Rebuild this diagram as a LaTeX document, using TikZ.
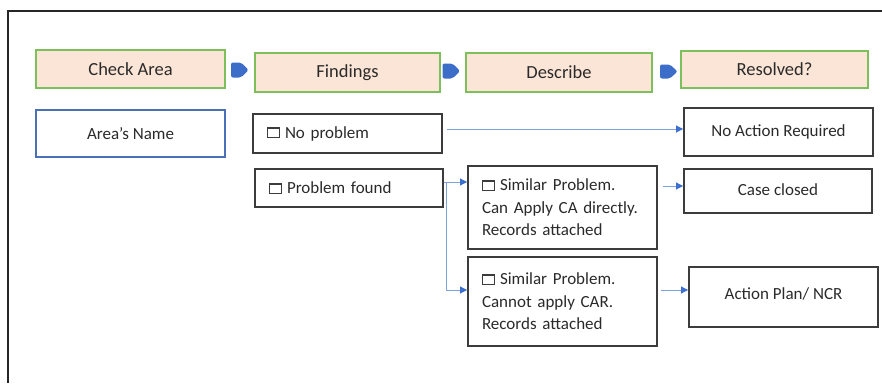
\documentclass[tikz,border=0pt]{standalone}
\usepackage{fontspec}
\setmainfont{Carlito}
\usetikzlibrary{arrows.meta,calc}
\definecolor{hdrfill}{HTML}{FBE5D6}
\definecolor{hdrline}{HTML}{7DBF5A}
\definecolor{bluebox}{HTML}{4A70B5}
\definecolor{boxline}{HTML}{3C3C3C}
\definecolor{txt}{HTML}{2A2A2A}
\definecolor{connline}{HTML}{7FA1DC}
\definecolor{conntip}{HTML}{3B6FD0}
\definecolor{chevcol}{HTML}{3B6DC9}
\newcommand\winico{\textcolor{boxline}{\vbox{\hrule height 2pt\hbox{\vrule width 1pt height 8pt\kern 11pt\vrule width 1pt height 8pt}\hrule height 1pt}}\kern 5pt}
\begin{document}
\begin{tikzpicture}[x=1pt,y=-1pt,
  hdr/.style={draw=hdrline,fill=hdrfill,line width=1.4pt,inner sep=0pt,text=txt,
    font=\fontsize{18.5}{22}\selectfont},
  namebox/.style={draw=bluebox,line width=1.4pt,inner sep=0pt,text=txt,
    font=\fontsize{17}{22.5}\selectfont},
  optbox/.style={draw=boxline,line width=1.9pt,inner sep=0pt,text=txt,
    font=\fontsize{17}{22.5}\selectfont},
  leftbox/.style={optbox,inner xsep=14pt,align=left},
  conn/.style={draw=connline,line width=0.9pt,-{Triangle[length=7pt,width=7pt,color=conntip]}},
  chev/.style={fill=chevcol,rounded corners=2pt},
  frame/.style={draw=black!85,line width=1.5pt}]
\useasboundingbox (0,0) rectangle (882,383);
\draw[frame] (882,11) -- (8,11) -- (8,383);
% header row
\node[hdr,minimum width=189pt,minimum height=38pt] (ca) at (130.5,69) {Check Area};
\node[hdr,minimum width=185pt,minimum height=39pt] (fi) at (347.5,72.5) {Findings};
\node[hdr,minimum width=186pt,minimum height=39pt] (de) at (559,72.5) {Describe};
\node[hdr,minimum width=187pt,minimum height=37pt] (re) at (774.5,69.5) {Resolved?};
% chevrons
\fill[chev] (231,62.5) -- (241,62.5) -- (248.5,70) -- (241,77.5) -- (231,77.5) -- cycle;
\fill[chev] (442.5,63.5) -- (452.5,63.5) -- (460,71) -- (452.5,78.5) -- (442.5,78.5) -- cycle;
\fill[chev] (660,64.5) -- (670,64.5) -- (677.5,71.5) -- (670,78.5) -- (660,78.5) -- cycle;
% boxes
\node[namebox,minimum width=189pt,minimum height=47pt] (an) at (130.5,133.5) {Area’s Name};
\node[leftbox,minimum width=189pt,minimum height=39pt,text width=161pt] (np) at (347.5,133.5) {\winico No problem};
\node[leftbox,minimum width=188pt,minimum height=38pt,text width=160pt] (pf) at (349,188) {\winico Problem found};
\node[leftbox,minimum width=189pt,minimum height=83pt,text width=161pt] (s1) at (562.5,207.5)
  {\winico Similar Problem.\\Can Apply CA directly.\\Records attached};
\node[leftbox,minimum width=189pt,minimum height=89pt,text width=161pt] (s2) at (562.5,301.5)
  {\winico Similar Problem.\\Cannot apply CAR.\\Records attached\\[4pt]};
\node[optbox,minimum width=189pt,minimum height=48pt] (na) at (778.5,132) {No Action Required};
\node[optbox,minimum width=188pt,minimum height=44pt] (cc) at (778,191) {\raisebox{2.5pt}{Case closed}};
\node[optbox,minimum width=189pt,minimum height=60pt] (ap) at (783.5,297) {\raisebox{6pt}{Action Plan/ NCR}};
% connectors
\coordinate (np1) at (447,129);
\draw[conn] (np1) -- (np1 -| na.west);
\coordinate (j) at (446,182);
\coordinate (k) at (446,290);
\draw[conn] (pf.east |- j) -- (j -| s1.west);
\draw[conn] (j) -- (k) -- (k -| s2.west);
\coordinate (c1) at (663,186);
\draw[conn] (c1) -- (c1 -| cc.west);
\coordinate (c2) at (661,290);
\draw[conn] (c2) -- (c2 -| ap.west);
\end{tikzpicture}
\end{document}
